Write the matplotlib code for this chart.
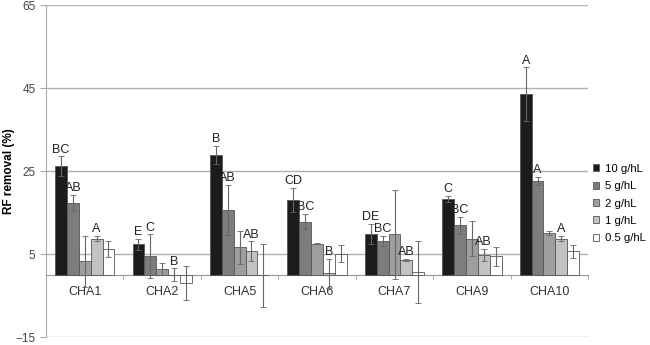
import numpy as np
import matplotlib
matplotlib.use("Agg")
import matplotlib.pyplot as plt

plt.rcParams['font.family'] = ['Liberation Sans', 'DejaVu Sans']

groups = ["CHA1", "CHA2", "CHA5", "CHA6", "CHA7", "CHA9", "CHA10"]
doses = ["10 g/hL", "5 g/hL", "2 g/hL", "1 g/hL", "0.5 g/hL"]

vals_10 = [26.2, 7.4, 29.0, 18.1, 10.0, 18.3, 43.6]
vals_5 = [17.4, 4.5, 15.7, 12.9, 8.3, 12.0, 22.6]
vals_2 = [3.3, 1.4, 6.7, 7.6, 9.8, 8.8, 10.2]
vals_1 = [8.8, 0.1, 5.7, 0.5, 3.6, 4.8, 8.8]
vals_05 = [6.2, -1.9, 0.0, 5.2, 0.7, 4.5, 5.7]

err_10 = [2.4, 1.4, 2.2, 2.9, 2.4, 0.8, 6.4]
err_5 = [1.9, 5.3, 6.0, 1.8, 1.2, 2.0, 1.0]
err_2 = [6.2, 1.4, 4.0, 0.2, 10.7, 4.3, 0.5]
err_1 = [0.7, 1.5, 2.4, 3.5, 0.3, 1.5, 0.7]
err_05 = [1.9, 4.0, 7.6, 2.0, 7.5, 2.2, 1.5]

letters_10 = ["BC", "E", "B", "CD", "DE", "C", "A"]
letters_5 = ["AB", "C", "AB", "BC", "BC", "BC", "A"]
letters_1 = ["A", "B", "AB", "B", "AB", "AB", "A"]

colors = ["#1c1c1c", "#7d7d7d", "#9e9e9e", "#c2c2c2", "#ffffff"]

vals = [vals_10, vals_5, vals_2, vals_1, vals_05]
errs = [err_10, err_5, err_2, err_1, err_05]

fig = plt.figure(figsize=(6.5, 3.45), dpi=100)
ax = fig.add_axes([0.0708, 0.022, 0.834, 0.963])

x = np.arange(len(groups))
w = 0.153
for i in range(5):
    pos = x + (i - 2) * w
    ax.bar(pos, vals[i], w, color=colors[i], edgecolor="#555555", linewidth=0.6,
           label=doses[i], zorder=3)
    ax.errorbar(pos, vals[i], yerr=errs[i], fmt="none", ecolor="#666666",
                elinewidth=0.8, capsize=2.5, capthick=0.6, zorder=4)

# significance letters
for i, letters in [(0, letters_10), (1, letters_5), (3, letters_1)]:
    pos = x + (i - 2) * w
    for j, lab in enumerate(letters):
        top = max(vals[i][j] + errs[i][j], vals[i][j])
        ax.text(pos[j], top + 0.2, lab, ha="center", va="bottom", fontsize=9,
                color="#222222", zorder=5)

ax.set_xlim(-0.5, len(groups) - 0.5)
ax.set_ylim(-15, 65)
ax.set_yticks([-15, 5, 25, 45, 65])
ax.yaxis.grid(True, color="#b0b0b0", linewidth=1.0, zorder=0)
ax.set_axisbelow(True)

ax.spines["top"].set_visible(False)
ax.spines["right"].set_visible(False)
ax.spines["left"].set_color("#aaaaaa")
ax.spines["bottom"].set_position(("data", 0))
ax.spines["bottom"].set_color("#999999")
ax.spines["bottom"].set_linewidth(0.8)

ax.set_xticks(x)
ax.set_xticklabels(groups, fontsize=9, color="#333333")
ax.set_xticks(np.arange(len(groups) + 1) - 0.5, minor=True)
ax.tick_params(axis="x", which="major", length=0, pad=8)
ax.tick_params(axis="x", which="minor", length=3, color="#999999", direction="out")
ax.tick_params(axis="y", length=4, color="#aaaaaa", labelsize=8.5, labelcolor="#444444")

ax.set_ylabel("RF removal (%)", fontsize=8.5, fontweight="bold")
ax.yaxis.set_label_coords(-0.058, 0.5)

fig.legend(loc="center left", bbox_to_anchor=(0.912, 0.41), frameon=False,
           fontsize=8.2, handlelength=0.55, handleheight=0.55, handletextpad=0.5,
           labelspacing=0.65, borderaxespad=0, borderpad=0)

fig.savefig("out.png", dpi=100)
